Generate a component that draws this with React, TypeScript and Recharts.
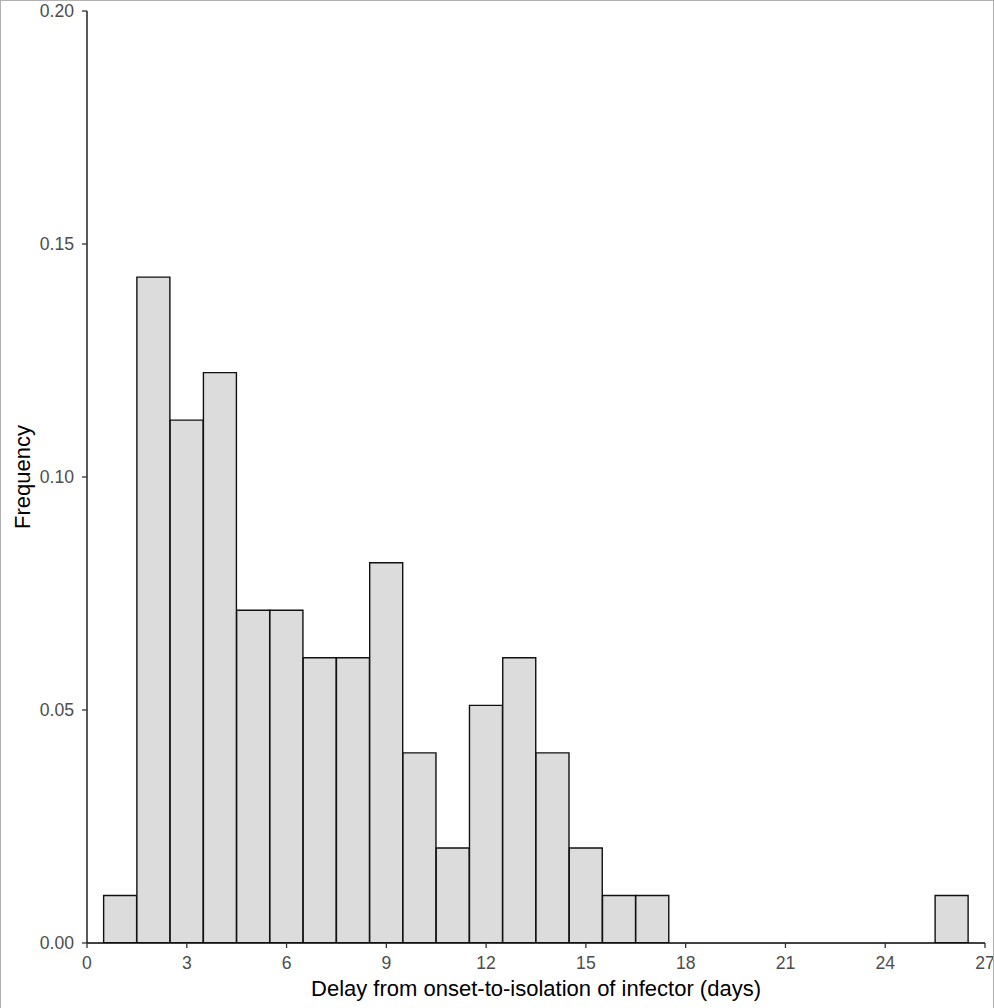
import React from 'react';
import { BarChart, Bar, XAxis, YAxis, Label } from 'recharts';

// delay (days) from onset to isolation of the infector
const days = [1, 2, 3, 4, 5, 6, 7, 8, 9, 10, 11, 12, 13, 14, 15, 16, 17, 18, 19, 20, 21, 22, 23, 24, 25, 26];
const frequency = [
  0.0102, 0.1429, 0.1122, 0.1224, 0.0714, 0.0714, 0.0612, 0.0612, 0.0816, 0.0408,
  0.0204, 0.051, 0.0612, 0.0408, 0.0204, 0.0102, 0.0102, 0, 0, 0,
  0, 0, 0, 0, 0, 0.0102,
];
const xTicks = [0, 3, 6, 9, 12, 15, 18, 21, 24, 27];
const yTicks = [0, 0.05, 0.1, 0.15, 0.2];

const data = days.map((d, i) => ({ day: d, freq: frequency[i] }));

const FONT = '"Liberation Sans", Arial, sans-serif';

const YTitle = (props: any) => {
  const vb = props.viewBox || {};
  const cy = vb.y + vb.height / 2;
  return (
    <text
      x={30}
      y={cy}
      transform={`rotate(-90, 30, ${cy})`}
      textAnchor="middle"
      fontSize={22}
      fontFamily={FONT}
      fill="#000"
    >
      Frequency
    </text>
  );
};

const App: React.FC = () => {
  const tickStyle = { fontSize: 17.6, fill: '#4d4d4d', fontFamily: FONT };
  return (
    <div style={{ position: 'absolute', left: 0, top: 0, width: 994, height: 1008, background: '#fff' }}>
      <BarChart
        width={994}
        height={1008}
        data={data}
        margin={{ top: 11, right: 9, bottom: 0, left: 0 }}
        barCategoryGap={0}
        barGap={0}
      >
        <XAxis
          dataKey="day"
          type="number"
          domain={[0, 27]}
          ticks={xTicks}
          interval={0}
          height={65}
          tick={tickStyle}
          tickSize={5}
          tickMargin={9}
          axisLine={{ stroke: '#000', strokeWidth: 1.3 }}
          tickLine={{ stroke: '#333', strokeWidth: 1.3 }}
          allowDataOverflow
        >
          <Label
            value="Delay from onset-to-isolation of infector (days)"
            position="insideBottom"
            offset={12}
            style={{ fontSize: 22, fill: '#000', fontFamily: FONT }}
          />
        </XAxis>
        <YAxis
          type="number"
          domain={[0, 0.2]}
          ticks={yTicks}
          interval={0}
          width={87}
          tick={tickStyle}
          tickSize={5}
          tickMargin={8}
          tickFormatter={(v: number) => v.toFixed(2)}
          axisLine={{ stroke: '#000', strokeWidth: 1.3 }}
          tickLine={{ stroke: '#333', strokeWidth: 1.3 }}
          allowDataOverflow
        >
          <Label content={<YTitle />} />
        </YAxis>
        <Bar dataKey="freq" fill="#dcdcdc" stroke="#111" strokeWidth={1.4} isAnimationActive={false} />
      </BarChart>
      <div
        style={{
          position: 'absolute',
          left: 0,
          top: 0,
          width: 994,
          height: 1008,
          boxSizing: 'border-box',
          borderLeft: '1px solid #b0b0b0',
          borderTop: '1px solid #b0b0b0',
          borderRight: '1px solid #b0b0b0',
          pointerEvents: 'none',
        }}
      />
    </div>
  );
};

export default App;
